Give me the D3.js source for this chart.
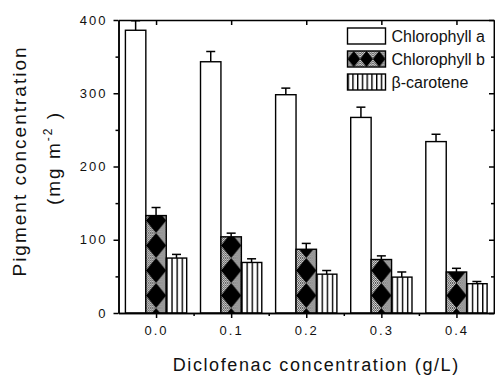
<!DOCTYPE html>
<html lang="en">
  <head>
    <meta charset="UTF-8" />
    <title>Pigment concentration</title>
    <script src="https://d3js.org/d3.v7.min.js"></script>
    <style>
      body { margin: 0; background: #fff; }
      svg { display: block; font-family: "Liberation Sans", Arial, sans-serif; }
      .axis path, .axis line { stroke: #000; stroke-width: 1.5; }
      .axis text { font-size: 13px; fill: #111; letter-spacing: 2px; }
    </style>
  </head>
  <body>
    <svg width="495" height="376"></svg>
    <script>
      // data
      var categories = [0.0, 0.1, 0.2, 0.3, 0.4];
      var tickLabels = ["0.0", "0.1", "0.2", "0.3", "0.4"];
      var seriesNames = ["Chlorophyll a", "Chlorophyll b", "β-carotene"];
      var chlA = [386, 343, 298, 267, 234];
      var chlAErr = [13, 14, 9, 14, 10];
      var chlB = [133, 104, 87, 73, 56];
      var chlBErr = [11, 5, 8, 5, 5];
      var carotene = [75, 69, 53, 49, 40];
      var caroteneErr = [5, 5, 5, 7, 3];
      var yTicks = [0, 100, 200, 300, 400];
      var yMinor = [50, 150, 250, 350];
      var xMinor = [0.05, 0.15, 0.25, 0.35];

      var series = [
        { name: seriesNames[0], values: chlA, err: chlAErr },
        { name: seriesNames[1], values: chlB, err: chlBErr },
        { name: seriesNames[2], values: carotene, err: caroteneErr }
      ];

      var svg = d3.select("svg"),
        pLeft = 118.5,
        pRight = 494,
        pTop = 20,
        pBottom = 313;

      var x = d3.scaleLinear().domain([-0.05, 0.45]).range([pLeft, pRight]);
      var y = d3.scaleLinear().domain([0, 400]).range([pBottom, pTop]);
      var bw = x(0.0272) - x(0);

      var defs = svg.append("defs");

      // grey halftone used inside the chlorophyll b hatch
      var dots = defs.append("pattern").attr("id", "dots")
        .attr("patternUnits", "userSpaceOnUse").attr("width", 2).attr("height", 2);
      dots.append("rect").attr("width", 2).attr("height", 2).attr("fill", "#dcdcdc");
      dots.append("rect").attr("width", 1).attr("height", 1).attr("fill", "#555");
      dots.append("rect").attr("x", 1).attr("y", 1).attr("width", 1).attr("height", 1).attr("fill", "#555");

      function diamondPattern(id, x0, y0, w, h) {
        var p = defs.append("pattern").attr("id", id)
          .attr("patternUnits", "userSpaceOnUse")
          .attr("x", x0).attr("y", y0).attr("width", w).attr("height", h);
        p.append("rect").attr("width", w).attr("height", h).attr("fill", "url(#dots)");
        p.append("path")
          .attr("d", "M" + w / 2 + ",0L" + w + "," + h / 2 + "L" + w / 2 + "," + h + "L0," + h / 2 + "Z")
          .attr("fill", "#000");
      }

      function stripePattern(id, x0, w) {
        var p = defs.append("pattern").attr("id", id)
          .attr("patternUnits", "userSpaceOnUse")
          .attr("x", x0).attr("y", 0).attr("width", w).attr("height", 10);
        p.append("rect").attr("width", w).attr("height", 10).attr("fill", "#fff");
        p.append("rect").attr("width", 1.4).attr("height", 10).attr("fill", "#000");
      }

      function barX(i, s) {
        return x(categories[i]) + (s - 1) * bw - bw / 2;
      }

      function fillFor(s, i) {
        if (s === 0) return "#fff";
        if (s === 1) return "url(#pb" + i + ")";
        return "url(#pc" + i + ")";
      }

      categories.forEach(function (c, i) {
        diamondPattern("pb" + i, barX(i, 1), pBottom - 5, bw, 25);
        stripePattern("pc" + i, barX(i, 2), bw / 4);
      });

      var g = svg.append("g");

      series.forEach(function (sr, s) {
        var sg = g.append("g");
        sg.selectAll("rect")
          .data(sr.values)
          .enter()
          .append("rect")
          .attr("x", function (d, i) { return barX(i, s); })
          .attr("y", function (d) { return y(d); })
          .attr("width", bw)
          .attr("height", function (d) { return pBottom - y(d); })
          .attr("fill", function (d, i) { return fillFor(s, i); })
          .attr("stroke", "#000")
          .attr("stroke-width", 1.4);

        var eg = sg.selectAll("g.err")
          .data(sr.values)
          .enter()
          .append("g")
          .attr("class", "err");
        eg.append("line")
          .attr("x1", function (d, i) { return barX(i, s) + bw / 2; })
          .attr("x2", function (d, i) { return barX(i, s) + bw / 2; })
          .attr("y1", function (d) { return y(d); })
          .attr("y2", function (d, i) { return y(d + sr.err[i]); })
          .attr("stroke", "#000").attr("stroke-width", 1.5);
        eg.append("line")
          .attr("x1", function (d, i) { return barX(i, s) + bw / 2 - 4.5; })
          .attr("x2", function (d, i) { return barX(i, s) + bw / 2 + 4.5; })
          .attr("y1", function (d, i) { return y(d + sr.err[i]); })
          .attr("y2", function (d, i) { return y(d + sr.err[i]); })
          .attr("stroke", "#000").attr("stroke-width", 1.5);
      });

      // axes
      svg.append("g").attr("class", "axis")
        .attr("transform", "translate(0," + pBottom + ")")
        .call(d3.axisBottom(x).tickValues(categories).tickSize(5).tickSizeOuter(0)
          .tickPadding(8)
          .tickFormat(function (d, i) { return tickLabels[i]; }));
      svg.append("g").attr("class", "axis")
        .attr("transform", "translate(0," + pBottom + ")")
        .call(d3.axisBottom(x).tickValues(xMinor).tickSize(3).tickSizeOuter(0).tickFormat(""));

      svg.append("g").attr("class", "axis")
        .attr("transform", "translate(0," + pTop + ")")
        .call(d3.axisTop(x).tickValues(categories).tickSize(-5).tickSizeOuter(0).tickFormat(""));

      svg.append("g").attr("class", "axis")
        .attr("transform", "translate(" + pLeft + ",0)")
        .call(d3.axisLeft(y).tickValues(yTicks).tickSize(5).tickSizeOuter(0).tickPadding(6));
      svg.append("g").attr("class", "axis")
        .attr("transform", "translate(" + pLeft + ",0)")
        .call(d3.axisLeft(y).tickValues(yMinor).tickSize(3).tickSizeOuter(0).tickFormat(""));

      svg.append("g").attr("class", "axis")
        .attr("transform", "translate(" + pRight + ",0)")
        .call(d3.axisRight(y).tickValues(yTicks).tickSize(-5).tickSizeOuter(0).tickFormat(""));
      svg.append("g").attr("class", "axis")
        .attr("transform", "translate(" + pRight + ",0)")
        .call(d3.axisRight(y).tickValues(yMinor).tickSize(-3).tickSizeOuter(0).tickFormat(""));

      // legend
      var legendY = [36, 59, 82];
      var lx = 347.5, lw = 38, lh = 16;
      diamondPattern("lb", lx, legendY[1] - lh / 2, lw / 3, lh);
      stripePattern("lc", lx, lw / 8);
      var legendFills = ["#fff", "url(#lb)", "url(#lc)"];

      var lg = svg.selectAll("g.legend")
        .data(seriesNames)
        .enter()
        .append("g")
        .attr("class", "legend");
      lg.append("rect")
        .attr("x", lx)
        .attr("y", function (d, i) { return legendY[i] - lh / 2; })
        .attr("width", lw)
        .attr("height", lh)
        .attr("fill", function (d, i) { return legendFills[i]; })
        .attr("stroke", "#000")
        .attr("stroke-width", 1.4);
      lg.append("text")
        .attr("x", lx + lw + 6)
        .attr("y", function (d, i) { return legendY[i]; })
        .attr("dy", "0.36em")
        .attr("font-size", "16px")
        .attr("fill", "#111")
        .text(function (d) { return d; });

      // axis titles
      svg.append("text")
        .attr("x", (pLeft + pRight) / 2 + 10)
        .attr("y", 371)
        .attr("text-anchor", "middle")
        .attr("font-size", "18px")
        .attr("letter-spacing", "1.6px")
        .attr("fill", "#111")
        .text("Diclofenac concentration (g/L)");

      svg.append("text")
        .attr("transform", "translate(26,161) rotate(-90)")
        .attr("text-anchor", "middle")
        .attr("font-size", "19px")
        .attr("letter-spacing", "2px")
        .attr("fill", "#111")
        .text("Pigment concentration");

      var unit = svg.append("text")
        .attr("transform", "translate(60,158) rotate(-90)")
        .attr("text-anchor", "middle")
        .attr("font-size", "19px")
        .attr("letter-spacing", "2px")
        .attr("fill", "#111");
      unit.append("tspan").text("(mg m");
      unit.append("tspan").attr("font-size", "12px").attr("dy", "-8").text("-2");
      unit.append("tspan").attr("dy", "8").text(" )");
    </script>
  </body>
</html>
